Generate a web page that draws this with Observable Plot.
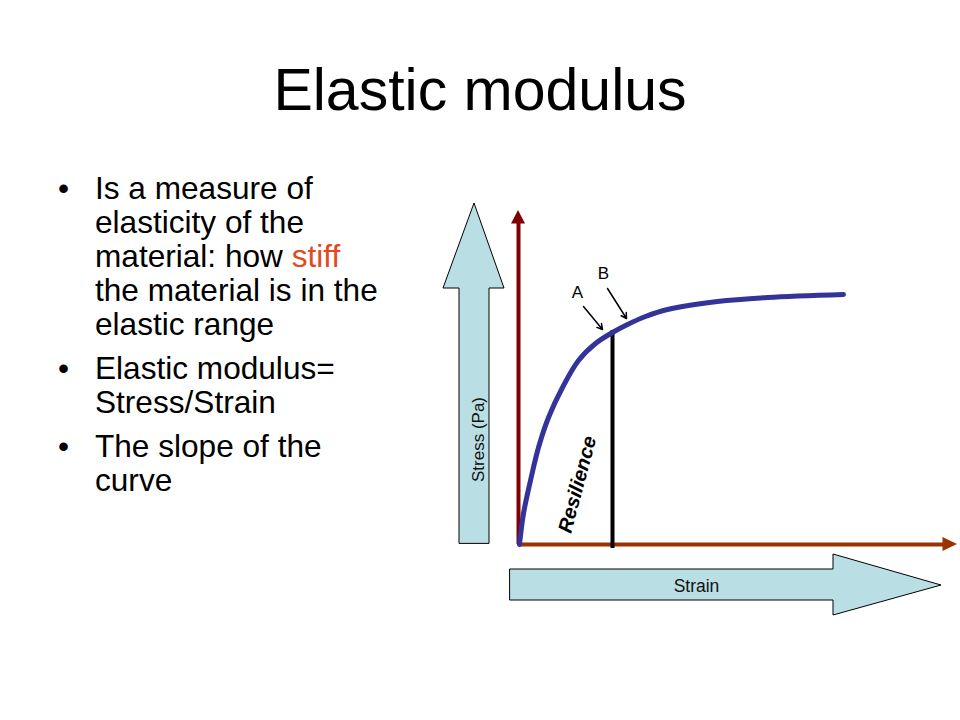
<!DOCTYPE html>
<html><head><meta charset="utf-8">
<script src="https://cdn.jsdelivr.net/npm/d3@7"></script>
<script src="https://cdn.jsdelivr.net/npm/@observablehq/plot@0.6"></script>
<style>
body{margin:0;background:#fff;font-family:"Liberation Sans",Arial,sans-serif;}
#page{position:relative;width:960px;height:720px;overflow:hidden;background:#fff;}
#chart{position:absolute;left:0;top:0;}
#title{position:absolute;left:0;top:61px;width:960px;text-align:center;font-size:59px;line-height:59px;color:#000;}
#bullets{position:absolute;left:95px;top:171px;font-size:31.6px;line-height:34px;color:#000;}
.p{position:relative;margin-bottom:10px;}
.p::before{content:"\2022";position:absolute;left:-37px;}
.hl{color:#e04a1f;}
</style></head><body>
<div id="page"><div id="chart"></div><div id="title"></div><div id="bullets"></div></div>
<script>
// ---- text content ----
const titleText = "Elastic modulus";
const bulletLines = [
  ["Is a measure of", "elasticity of the", "material: how <span class='hl'>stiff</span>", "the material is in the", "elastic range"],
  ["Elastic modulus=", "Stress/Strain"],
  ["The slope of the", "curve"]
];
// ---- curve (strain, stress), arbitrary units ----
const strain = [0, 0.08, 0.22, 0.38, 0.58, 0.86, 1.18, 1.52, 1.86, 2.16, 2.52, 2.96, 3.96, 4.96, 6.48];
const stress = [0, 0.62, 1.28, 1.94, 2.54, 3.14, 3.68, 4.02, 4.24, 4.40, 4.56, 4.70, 4.86, 4.94, 5.00];
// resilience boundary (strain at the A/B point)
const resilienceStrain = [1.86];
const resilienceTop = 4.28;
// axis extents
const stressAxisMax = 6.68;
const strainAxisMax = 8.76;
// labels
const labels = [
  {x: 1.16, y: 5.04, text: "A"},
  {x: 1.68, y: 5.42, text: "B"}
];
const pointers = [
  {x1: 1.28, y1: 4.76, x2: 1.66, y2: 4.30},
  {x1: 1.76, y1: 5.12, x2: 2.14, y2: 4.52}
];
// big decorative arrows (outline, in data units)
const stressArrowY = [0.02, 5.12, 5.12, 6.82];
const stressArrowL = [-1.2, -1.2, -1.52, -0.9];
const stressArrowR = [-0.6, -0.6, -0.3, -0.9];
const strainArrowX = [-0.18, 6.28, 6.28, 8.44];
const strainArrowT = [-0.5, -0.5, -0.2, -0.82];
const strainArrowB = [-1.12, -1.12, -1.42, -0.82];

document.getElementById("title").textContent = titleText;
document.getElementById("bullets").innerHTML = bulletLines.map(p => `<div class="p">${p.join("<br>")}</div>`).join("");

const curve = strain.map((s, i) => ({strain: s, stress: stress[i]}));
const stressArrow = stressArrowY.map((y, i) => ({y, x1: stressArrowL[i], x2: stressArrowR[i]}));
const strainArrow = strainArrowX.map((x, i) => ({x, y1: strainArrowT[i], y2: strainArrowB[i]}));
const vHead = [{y: stressAxisMax - 0.27, x1: -0.14, x2: 0.14}, {y: stressAxisMax, x1: 0, x2: 0}];
const hHead = [{x: strainAxisMax - 0.29, y1: -0.14, y2: 0.14}, {x: strainAxisMax, y1: 0, y2: 0}];

const chart = Plot.plot({
  width: 960, height: 720, margin: 0,
  x: {domain: [-10.38, 8.82], axis: null},
  y: {domain: [-3.52, 10.88], axis: null},
  style: {fontFamily: "'Liberation Sans', Arial, sans-serif", background: "transparent"},
  marks: [
    Plot.areaX(stressArrow, {y: "y", x1: "x1", x2: "x2", fill: "#b9dfe4", stroke: "#000", strokeWidth: 1}),
    Plot.areaY(strainArrow, {x: "x", y1: "y1", y2: "y2", fill: "#b9dfe4", stroke: "#000", strokeWidth: 1}),
    Plot.text([{x: -0.82, y: 2.1, t: "Stress (Pa)"}], {x: "x", y: "y", text: "t", rotate: -90, fontSize: 17, fill: "#111"}),
    Plot.text([{x: 3.54, y: -0.84, t: "Strain"}], {x: "x", y: "y", text: "t", fontSize: 17.5, fill: "#111"}),
    Plot.ruleX([-0.02], {y1: 0, y2: stressAxisMax - 0.25, stroke: "#7f0000", strokeWidth: 4}),
    Plot.areaX(vHead, {y: "y", x1: d => d.x1 - 0.02, x2: d => d.x2 - 0.02, fill: "#7f0000"}),
    Plot.ruleY([0], {x1: 0, x2: strainAxisMax - 0.27, stroke: "#993300", strokeWidth: 4}),
    Plot.areaY(hHead, {x: "x", y1: "y1", y2: "y2", fill: "#993300"}),
    Plot.ruleX(resilienceStrain, {y1: -0.08, y2: resilienceTop, stroke: "#000", strokeWidth: 4}),
    Plot.line(curve, {x: "strain", y: "stress", curve: "catmull-rom", stroke: "#333399", strokeWidth: 5}),
    Plot.text([{x: 1.16, y: 1.2, t: "Resilience"}], {x: "x", y: "y", text: "t", rotate: -75, fontSize: 20, fontWeight: "bold", fontStyle: "italic", fill: "#000"}),
    Plot.text(labels, {x: "x", y: "y", text: "text", fontSize: 17, fill: "#000"}),
    Plot.arrow(pointers, {x1: "x1", y1: "y1", x2: "x2", y2: "y2", stroke: "#000", strokeWidth: 1.5, headLength: 6})
  ]
});
document.getElementById("chart").appendChild(chart);
</script>
</body></html>
